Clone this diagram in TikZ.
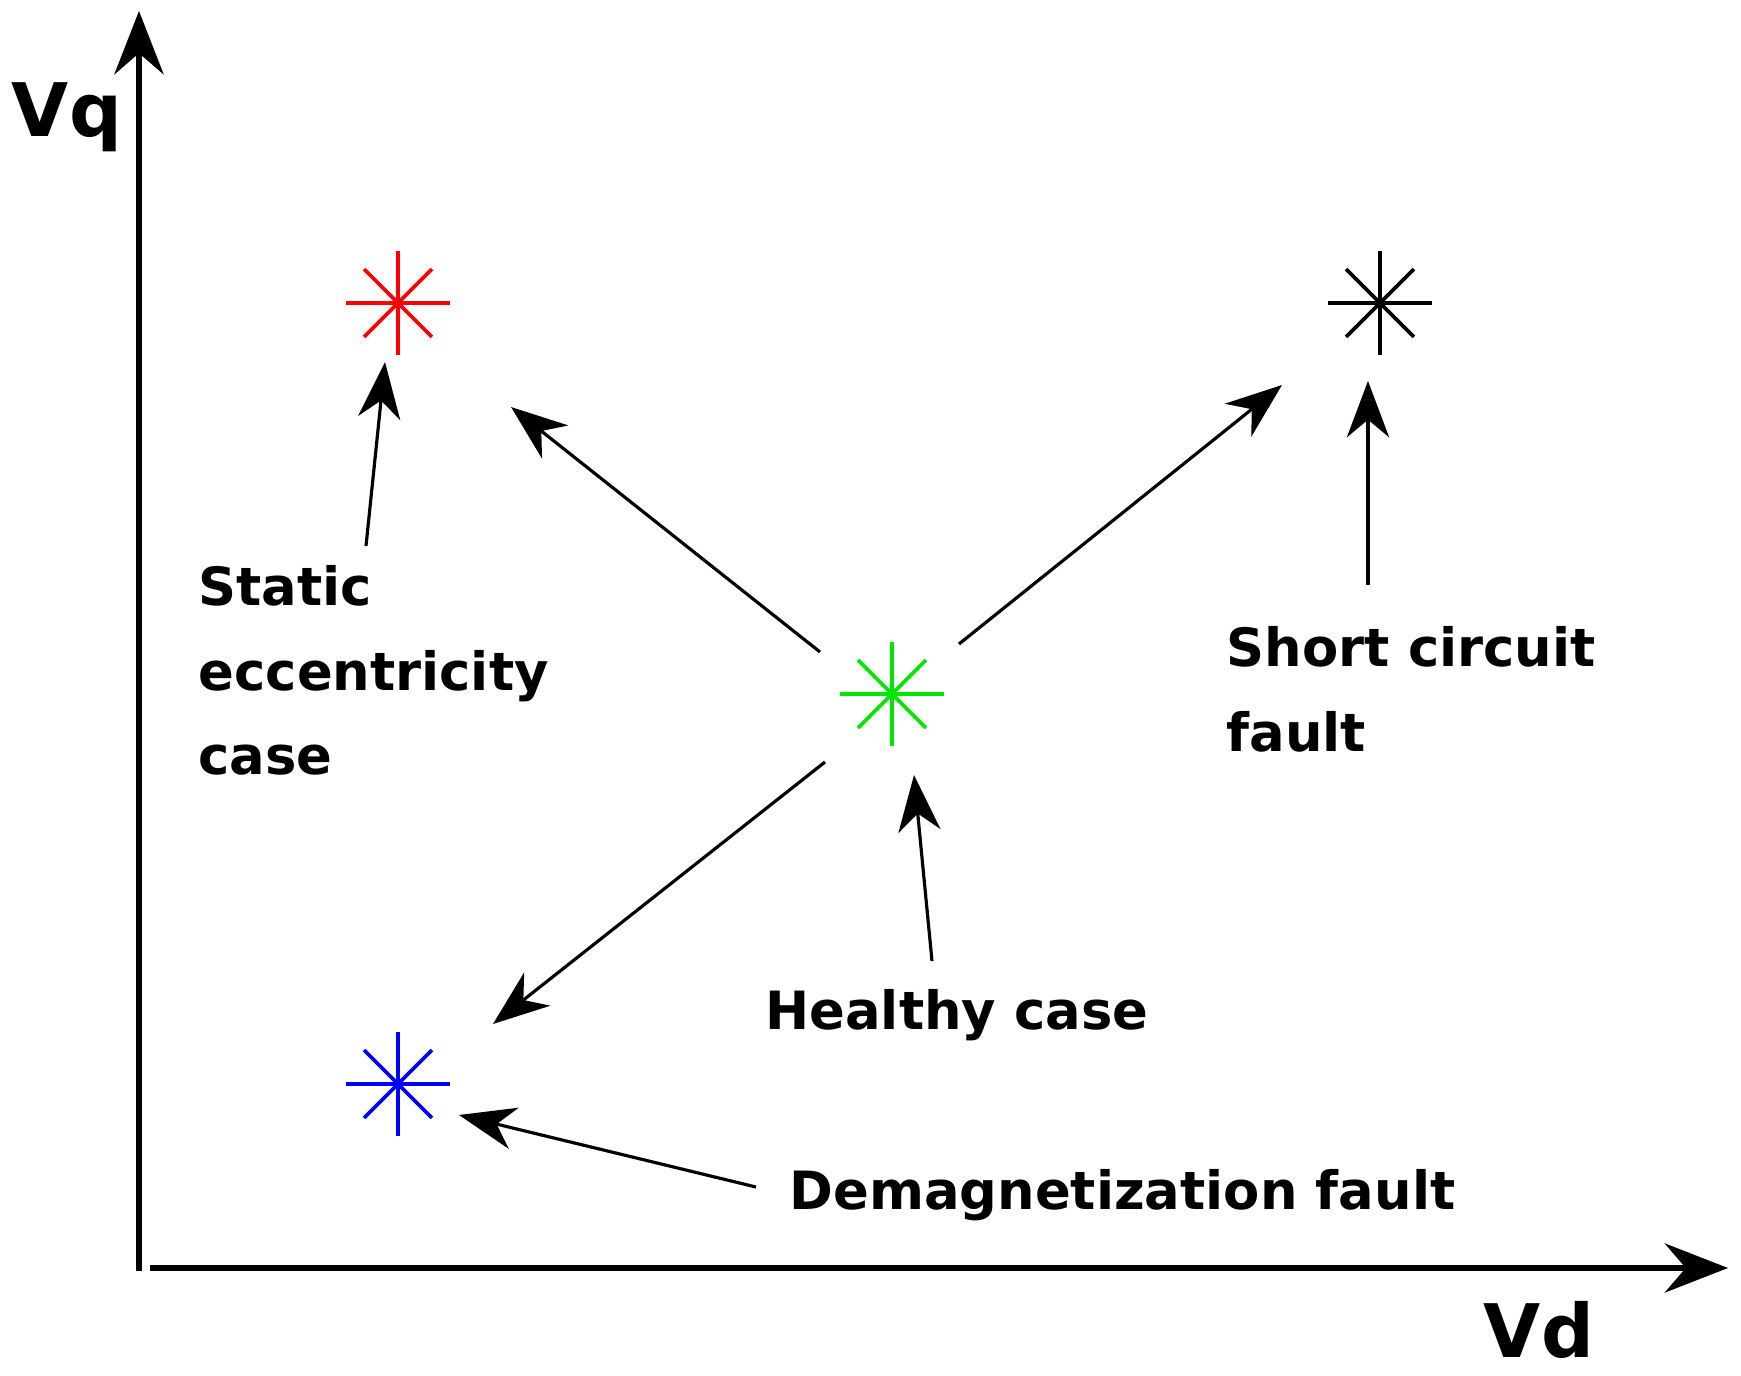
\documentclass[tikz,border=0pt]{standalone}
\usepackage{fontspec}
\setmainfont{DejaVu Sans}
\usetikzlibrary{arrows.meta}
\begin{document}
\begin{tikzpicture}[x=0.01cm,y=-0.01cm,
  ar/.style={line width=0.9pt,-{Stealth[length=16pt,width=12pt,inset=5pt]}},
  lbl/.style={font=\fontsize{15}{24}\selectfont\bfseries,align=left,inner sep=0},
  ax/.style={font=\fontsize{21}{24}\selectfont\bfseries,inner sep=0},
  st/.style={line width=1.1pt}]
\useasboundingbox (0,0) rectangle (1741,1376);
% axes
\coordinate (o) at (139,1271);
\coordinate (yt) at (139,11);
\coordinate (xs) at (150,1268);
\coordinate (xt) at (1728,1268);
\draw[line width=1.5pt,-{Stealth[length=18pt,width=14pt,inset=6pt]}] (o) -- (yt);
\draw[line width=1.5pt,-{Stealth[length=18pt,width=14pt,inset=6pt]}] (xs) -- (xt);
\node[ax] (vq) at (67,117) {Vq};
\node[ax] (vd) at (1539,1330) {Vd};
% stars
\foreach \n/\x/\y/\c in {sr/398/303/red, sk/1380/303/black, sg/892/694/green!90!black, sb/398/1084/blue}{
  \coordinate (\n) at (\x,\y);
  \foreach \a in {45,135,...,315} \draw[st,\c] (\n) -- ++(\a:48);
  \foreach \a in {0,180} \draw[st,\c] (\n) -- ++(\a:52);
  \foreach \a in {90,270} \draw[st,\c] (\n) -- ++(\a:52);
  \fill[\c] (\n) circle (4);
}
% labels
\node[lbl,anchor=north west] (lstat) at (198,565) {Static\\eccentricity\\case};
\node[lbl,anchor=north west] (lshort) at (1226,626) {Short circuit\\fault};
\node[lbl] (lhealth) at (957,1015) {Healthy case};
\node[lbl,anchor=west] (ldemag) at (789,1195) {Demagnetization fault};
% arrow coordinates
\coordinate (a1s) at (366,546); \coordinate (a1e) at (385,362);
\coordinate (a2s) at (820,652); \coordinate (a2e) at (511,407);
\coordinate (a3s) at (959,644); \coordinate (a3e) at (1282,385);
\coordinate (a4s) at (1368,585); \coordinate (a4e) at (1368,381);
\coordinate (a5s) at (825,762); \coordinate (a5e) at (493,1024);
\coordinate (a6s) at (932,961); \coordinate (a6e) at (914,775);
\coordinate (a7s) at (756,1187); \coordinate (a7e) at (459,1115);
\foreach \i in {1,...,7} \draw[ar] (a\i s) -- (a\i e);
\end{tikzpicture}
\end{document}
